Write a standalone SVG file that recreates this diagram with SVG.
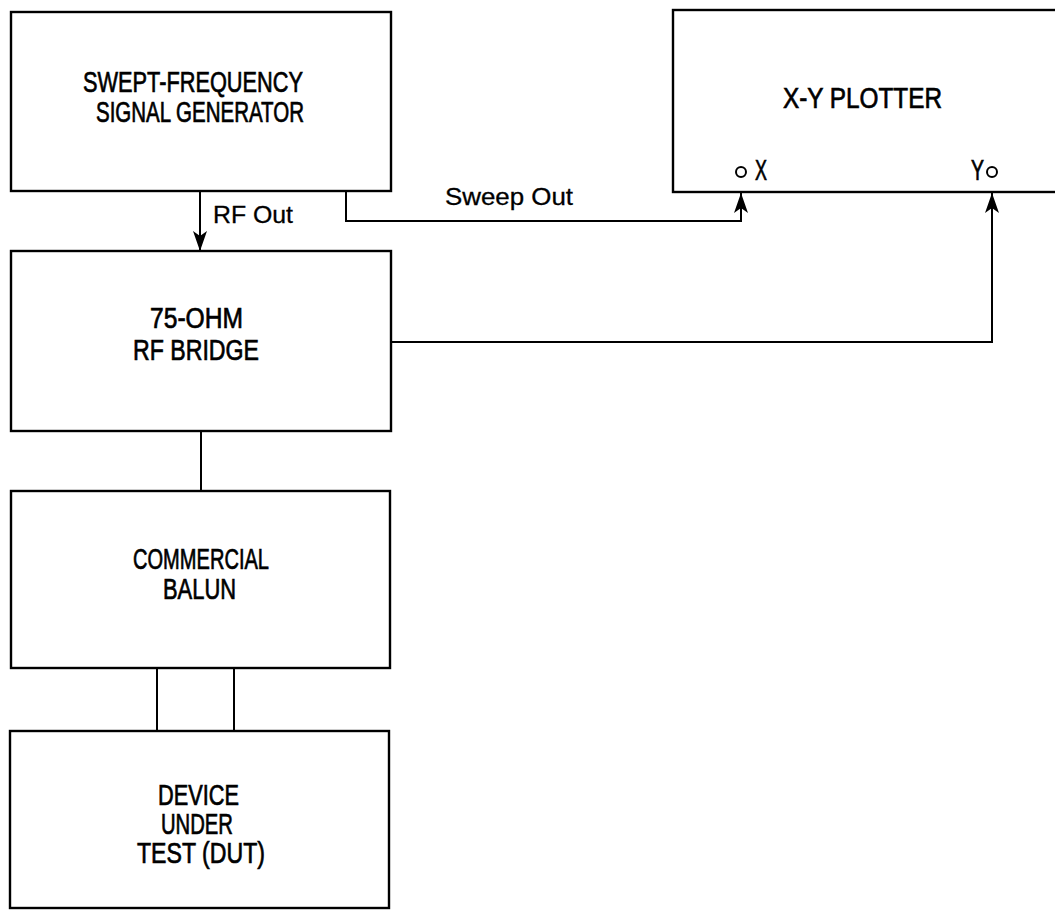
<svg xmlns="http://www.w3.org/2000/svg" width="1055" height="911" viewBox="0 0 1055 911">
<style>
.box{fill:#fff;stroke:#000;stroke-width:2.4}
.ln{fill:none;stroke:#000;stroke-width:2}
.t{font-family:"Liberation Sans",Arial,sans-serif;font-size:29px;fill:#000;stroke:#000;stroke-width:0.7;text-anchor:start}
.s{font-family:"Liberation Sans",Arial,sans-serif;font-size:23px;fill:#000;stroke:#000;stroke-width:0.3}
.pin{fill:#fff;stroke:#000;stroke-width:2}
</style>
<defs>
<marker id="ah" viewBox="0 0 20 14" refX="20" refY="7" markerWidth="20" markerHeight="14" markerUnits="userSpaceOnUse" orient="auto">
<path d="M0,0 L20,7 L0,14 L5,7 Z" fill="#000"/>
</marker>
</defs>
<rect width="1055" height="911" fill="#fff"/>
<g id="connectors">
<line class="ln" x1="200" y1="191" x2="200" y2="251" marker-end="url(#ah)"/>
<polyline class="ln" points="346,191 346,221 741,221 741,193" marker-end="url(#ah)"/>
<polyline class="ln" points="391,342 992,342 992,193" marker-end="url(#ah)"/>
<line class="ln" x1="741" y1="192" x2="741" y2="177"/>
<line class="ln" x1="992" y1="192" x2="992" y2="177"/>
<line class="ln" x1="201" y1="431" x2="201" y2="491"/>
<line class="ln" x1="157" y1="668" x2="157" y2="731"/>
<line class="ln" x1="234" y1="668" x2="234" y2="731"/>
<text class="s" x="213" y="223" textLength="80" lengthAdjust="spacingAndGlyphs">RF Out</text>
<text class="s" x="445" y="205" textLength="128" lengthAdjust="spacingAndGlyphs">Sweep Out</text>
</g>
<g id="generator">
<rect class="box" x="11" y="12" width="380" height="179"/>
<text class="t" x="83" y="92" textLength="220" lengthAdjust="spacingAndGlyphs">SWEPT-FREQUENCY</text>
<text class="t" x="96" y="122" textLength="208" lengthAdjust="spacingAndGlyphs">SIGNAL GENERATOR</text>
</g>
<g id="plotter">
<rect class="box" x="673" y="10" width="400" height="182"/>
<text class="t" x="783" y="108" textLength="159" lengthAdjust="spacingAndGlyphs">X-Y PLOTTER</text>
<circle class="pin" cx="741" cy="172" r="5"/>
<circle class="pin" cx="992" cy="172" r="5"/>
<text class="t" x="755" y="180" font-size="22" textLength="12" lengthAdjust="spacingAndGlyphs">X</text>
<text class="t" x="971" y="180" font-size="22" textLength="13" lengthAdjust="spacingAndGlyphs">Y</text>
</g>
<g id="bridge">
<rect class="box" x="11" y="251" width="380" height="180"/>
<text class="t" x="150" y="328" textLength="93" lengthAdjust="spacingAndGlyphs">75-OHM</text>
<text class="t" x="133" y="360" textLength="126" lengthAdjust="spacingAndGlyphs">RF BRIDGE</text>
</g>
<g id="balun">
<rect class="box" x="11" y="491" width="379" height="177"/>
<text class="t" x="133" y="569" textLength="136" lengthAdjust="spacingAndGlyphs">COMMERCIAL</text>
<text class="t" x="163" y="599" textLength="73" lengthAdjust="spacingAndGlyphs">BALUN</text>
</g>
<g id="dut">
<rect class="box" x="10" y="731" width="379" height="177"/>
<text class="t" x="158" y="805" textLength="81" lengthAdjust="spacingAndGlyphs">DEVICE</text>
<text class="t" x="161" y="834" textLength="72" lengthAdjust="spacingAndGlyphs">UNDER</text>
<text class="t" x="137" y="863" textLength="128" lengthAdjust="spacingAndGlyphs">TEST (DUT)</text>
</g>
</svg>
